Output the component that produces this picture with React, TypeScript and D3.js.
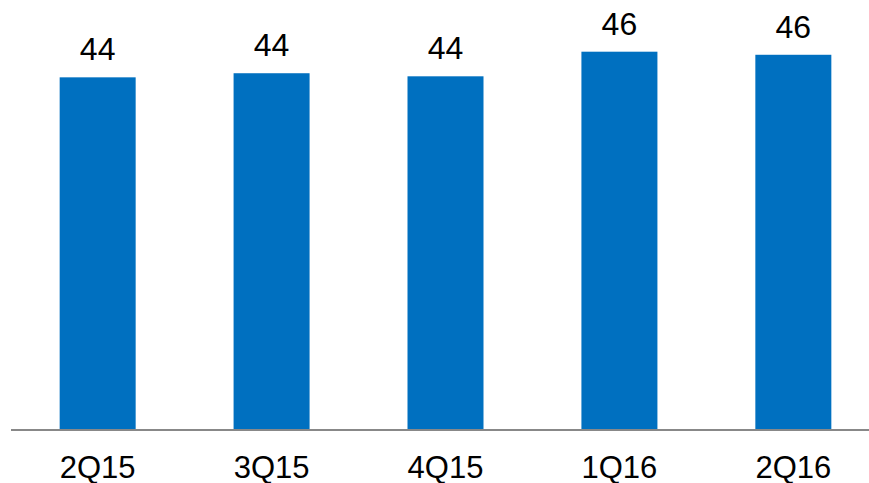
import React from "react";
import * as d3 from "d3";

const categories = ["2Q15", "3Q15", "4Q15", "1Q16", "2Q16"];
const values = [43.8, 44.2, 43.9, 46.3, 46.0];

const W = 869;
const H = 483;

export default function App() {
  const x = d3
    .scaleBand<string>()
    .domain(categories)
    .range([10.7, 880.3])
    .paddingInner(0.563)
    .paddingOuter(0.2815);
  const y = d3.scaleLinear().domain([9.4, 46.3]).range([430, 51.7]);
  const font = "'Liberation Sans', Arial, sans-serif";
  return (
    <svg
      width={W}
      height={H}
      style={{ position: "absolute", left: 0, top: 0, background: "#fff" }}
    >
      {categories.map((c, i) => (
        <g key={c}>
          <rect
            x={x(c)}
            y={y(values[i])}
            width={x.bandwidth()}
            height={y(9.4) - y(values[i])}
            fill="#0070C0"
          />
          <text
            x={(x(c) as number) + x.bandwidth() / 2}
            y={y(values[i]) - 17}
            textAnchor="middle"
            fontFamily={font}
            fontSize={32}
            fill="#000"
          >
            {Math.round(values[i])}
          </text>
          <text
            x={(x(c) as number) + x.bandwidth() / 2}
            y={478}
            textAnchor="middle"
            fontFamily={font}
            fontSize={31}
            fill="#000"
          >
            {c}
          </text>
        </g>
      ))}
      <line x1={11} x2={W} y1={430} y2={430} stroke="#888" strokeWidth={2} />
    </svg>
  );
}
